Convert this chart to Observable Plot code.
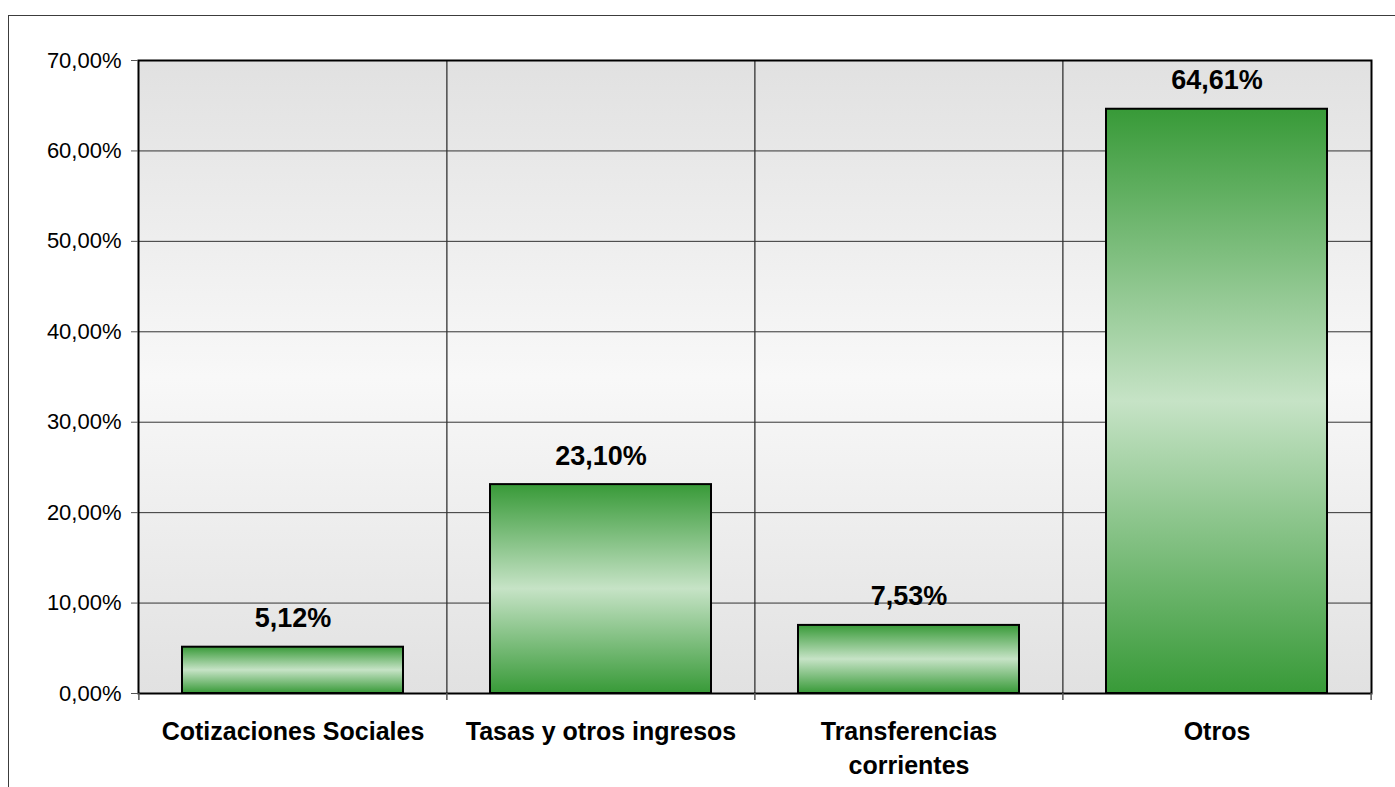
<!DOCTYPE html>
<html><head><meta charset="utf-8">
<script src="https://cdn.jsdelivr.net/npm/d3@7"></script>
<script src="https://cdn.jsdelivr.net/npm/@observablehq/plot@0.6"></script>
<style>
body{margin:0;background:#fff;font-family:"Liberation Sans",Arial,sans-serif;}
#wrap{position:relative;width:1395px;height:787px;overflow:hidden;}
#wrap svg{position:absolute;left:0;top:0;}
#border{position:absolute;left:8px;top:15px;right:-10px;bottom:-10px;border-top:1.5px solid #3c3c3c;border-left:1.5px solid #3c3c3c;pointer-events:none;}
</style></head><body><div id="wrap"><div id="border"></div></div>
<script>
const categories = ["Cotizaciones Sociales", "Tasas y otros ingresos", "Transferencias\ncorrientes", "Otros"];
const values = [0.0512, 0.2310, 0.0753, 0.6461];
const yTicks = [0, 0.1, 0.2, 0.3, 0.4, 0.5, 0.6, 0.7];

const data = categories.map((c, i) => ({category: c, value: values[i]}));
const locale = d3.formatLocale({decimal: ",", thousands: ".", grouping: [3], currency: ["", "€"]});
const pct2 = locale.format(".2%");

const W = 1395, H = 787, mL = 138, mR = 24, mT = 60, mB = 94;
const half = (W - mL - mR) / categories.length / 2;

const plot = Plot.plot({
  width: W, height: H,
  marginLeft: mL, marginRight: mR, marginTop: mT, marginBottom: mB,
  style: {fontFamily: "'Liberation Sans', Arial, sans-serif", background: "transparent", color: "#000"},
  x: {domain: categories, paddingInner: 0.283, paddingOuter: 0.1415, axis: null, label: null},
  y: {domain: [0, 0.7], axis: null, label: null},
  marks: [
    Plot.frame({fill: "url(#bgGrad)"}),
    Plot.ruleY(yTicks, {stroke: "#333", strokeWidth: 1}),
    Plot.ruleX(categories.slice(1), {dx: -half, stroke: "#333", strokeWidth: 1.3}),
    Plot.barY(data, {x: "category", y: "value", fill: "url(#barGrad)", stroke: "#000", strokeWidth: 2}),
    Plot.frame({stroke: "#000", strokeWidth: 2}),
    Plot.ruleX(categories, {dx: -half, y1: 0, y2: 0, insetBottom: -7, stroke: "#555", strokeWidth: 1.5}),
    Plot.ruleX(categories.slice(-1), {dx: half, y1: 0, y2: 0, insetBottom: -7, stroke: "#555", strokeWidth: 1.5}),
    Plot.axisY({ticks: yTicks, tickFormat: pct2, tickSize: 7, tickPadding: 10, fontSize: 22, stroke: "#555", label: null}),
    Plot.axisX({tickSize: 0, tickPadding: 22, fontSize: 25, fontWeight: "bold", lineHeight: 1.36, label: null}),
    Plot.text(data, {x: "category", y: "value", text: d => pct2(d.value), dy: -28.6, fontSize: 27, fontWeight: "bold", fill: "#000"})
  ]
});

const defs = d3.select(plot).insert("defs", ":first-child");
const bg = defs.append("linearGradient").attr("id", "bgGrad").attr("x1", 0).attr("y1", 0).attr("x2", 0).attr("y2", 1);
bg.append("stop").attr("offset", "0%").attr("stop-color", "#e1e1e1");
bg.append("stop").attr("offset", "50%").attr("stop-color", "#f8f8f8");
bg.append("stop").attr("offset", "100%").attr("stop-color", "#e1e1e1");
const bar = defs.append("linearGradient").attr("id", "barGrad").attr("x1", 0).attr("y1", 0).attr("x2", 0).attr("y2", 1);
bar.append("stop").attr("offset", "0%").attr("stop-color", "#389a38");
bar.append("stop").attr("offset", "50%").attr("stop-color", "#c6e3c6");
bar.append("stop").attr("offset", "100%").attr("stop-color", "#389a38");

document.getElementById("wrap").appendChild(plot);
</script>
</body></html>
